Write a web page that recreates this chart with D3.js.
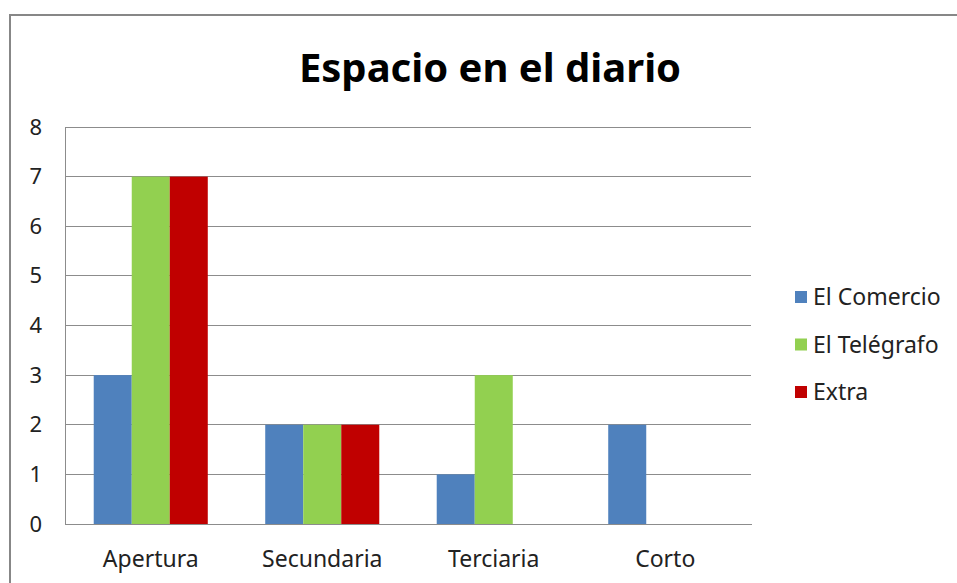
<!DOCTYPE html>
<html>
<head>
<meta charset="utf-8">
<script src="https://cdn.jsdelivr.net/npm/d3@7"></script>
<style>
  body { margin: 0; background: #fff; }
  text { font-family: "Noto Sans", "Open Sans", sans-serif; fill: #222; }
</style>
</head>
<body>
<div id="container"></div>
<script>
// Data ---------- ---------- ----------
let categories = ["Apertura", "Secundaria", "Terciaria", "Corto"];
let seriesNames = ["El Comercio", "El Telégrafo", "Extra"];
let elComercio = [3, 2, 1, 2];
let elTelegrafo = [7, 2, 3, 0];
let extra = [7, 2, 0, 0];
let yTicks = [0, 1, 2, 3, 4, 5, 6, 7, 8];
let title = "Espacio en el diario";

// Layout ---------- ---------- ----------
let canvasW = 957, canvasH = 583;
let plotL = 65, plotR = 751, plotT = 127, plotB = 524;
let colors = ["#4F81BD", "#92D050", "#C00000"];
let gridColor = "#8c8c8c";

let svg = d3.select("#container").append("svg").attr("width", canvasW).attr("height", canvasH);

// chart frame (only top and left edges visible in the crop)
svg.append("path").attr("d", d3.line()([[10, canvasH + 5], [10, 15], [canvasW + 5, 15]]))
    .attr("fill", "none").attr("stroke", "#878787").attr("stroke-width", 2);

// title
svg.append("text").attr("x", 490).attr("y", 82).attr("text-anchor", "middle")
    .style("font-size", "40px").style("font-weight", "bold").style("fill", "#000").text(title);

// Scales
let x0 = d3.scaleBand().domain(categories).range([plotL, plotR]).paddingInner(0.335).paddingOuter(0.1675);
let x1 = d3.scaleBand().domain(seriesNames).range([0, x0.bandwidth()]);
let y = d3.scaleLinear().domain([0, 8]).range([plotB, plotT]);

// gridlines
svg.append("g").selectAll("line").data(yTicks.filter(d => d > 0)).join("line")
    .attr("x1", plotL).attr("x2", plotR).attr("y1", d => y(d)).attr("y2", d => y(d))
    .attr("stroke", gridColor).attr("stroke-width", 1).attr("shape-rendering", "crispEdges");

// Y axis
let yAxis = svg.append("g").attr("transform", "translate(" + plotL + ",0)")
    .call(d3.axisLeft(y).tickValues(yTicks).tickSize(0).tickPadding(23).tickFormat(d3.format("d")));
yAxis.select(".domain").attr("stroke", gridColor).attr("shape-rendering", "crispEdges");
yAxis.selectAll("text").style("font-size", "22px").style("fill", "#222").attr("font-family", null);

// bars
let rows = categories.map((c, i) => ({cat: c, vals: [elComercio[i], elTelegrafo[i], extra[i]]}));
svg.append("g").selectAll("g").data(rows).join("g")
    .attr("transform", d => "translate(" + x0(d.cat) + ",0)")
  .selectAll("rect").data(d => d.vals.map((v, j) => ({name: seriesNames[j], v: v, j: j}))).join("rect")
    .attr("x", d => x1(d.name)).attr("width", x1.bandwidth())
    .attr("y", d => y(d.v)).attr("height", d => y(0) - y(d.v))
    .attr("fill", d => colors[d.j]);

// X axis
let xAxis = svg.append("g").attr("transform", "translate(0," + plotB + ")")
    .call(d3.axisBottom(x0).tickSize(0).tickPadding(27));
xAxis.select(".domain").attr("stroke", gridColor).attr("shape-rendering", "crispEdges");
xAxis.selectAll("text").style("font-size", "23px").style("fill", "#222").attr("font-family", null);

// Legend
let legend = svg.append("g").selectAll("g").data(seriesNames).join("g")
    .attr("transform", (d, i) => "translate(795," + (297 + i * 47.5) + ")");
legend.append("rect").attr("x", 0).attr("y", -6).attr("width", 12).attr("height", 12).attr("fill", (d, i) => colors[i]);
legend.append("text").attr("x", 18).attr("y", 8).style("font-size", "23px").text(d => d);
</script>
</body>
</html>
